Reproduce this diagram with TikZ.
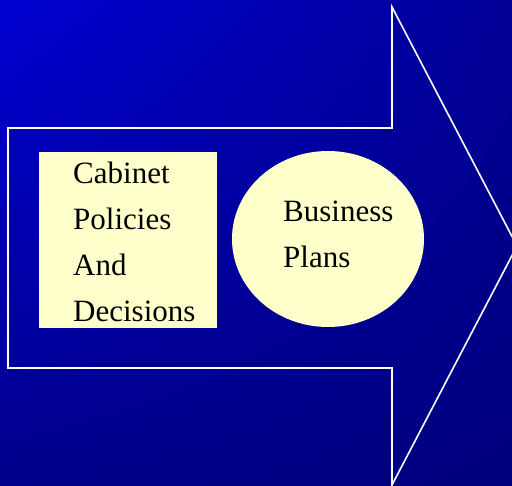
\documentclass[tikz,border=0pt]{standalone}
\usepackage{fontspec}
\setmainfont{Liberation Serif}
\usetikzlibrary{shapes.geometric,shadings}
\usepackage{xcolor}
\definecolor{bgtopleft}{RGB}{0,0,210}
\definecolor{bgtopright}{RGB}{0,0,150}
\definecolor{bgbotleft}{RGB}{0,0,138}
\definecolor{bgbotright}{RGB}{0,0,125}
\definecolor{paleyellow}{RGB}{255,255,204}
\tikzset{
 plantext/.style={anchor=north west, inner sep=0, align=left, font=\fontsize{31}{46}\selectfont},
 policybox/.style={rectangle, fill=paleyellow, minimum width=178pt, minimum height=176pt, inner sep=0},
 planellipse/.style={ellipse, fill=paleyellow, minimum width=192pt, minimum height=176pt, inner sep=0}
}
\begin{document}
\begin{tikzpicture}[x=1pt, y=-1pt]
\useasboundingbox (0,0) rectangle (512,486);
\clip (0,0) rectangle (512,486);
\shade[upper left=bgtopleft, upper right=bgtopright, lower left=bgbotleft, lower right=bgbotright] (0,0) rectangle (512,486);
\draw[white, line width=1.6pt, line join=miter] (8,128) -- (392,128) -- (392,7) -- (517,246) -- (392,485) -- (392,368) -- (8,368) -- cycle;
\node[policybox] (cabinet) at (128,240) {};
\node[plantext] (cabinettext) at (73,162) {Cabinet\\Policies\\And\\Decisions};
\node[planellipse] (business) at (328,239) {};
\node[plantext] (businesstext) at (283,201) {Business\\Plans};
\end{tikzpicture}
\end{document}
